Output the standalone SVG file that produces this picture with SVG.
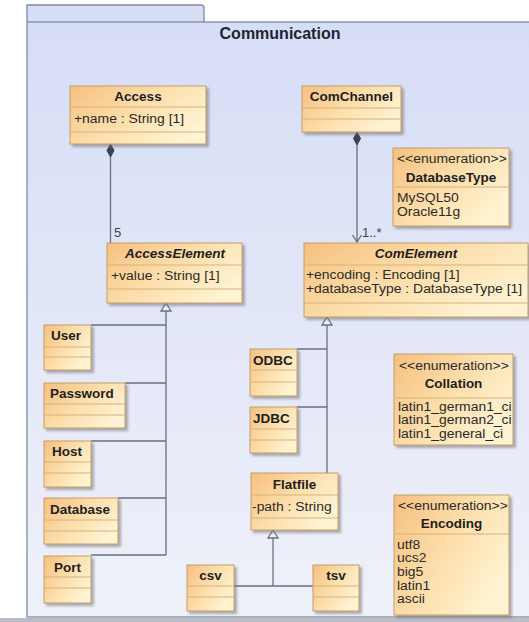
<svg xmlns="http://www.w3.org/2000/svg" width="529" height="622" viewBox="0 0 529 622">
  <defs>
    <linearGradient id="pkgFill" x1="0" y1="0" x2="0" y2="1">
      <stop offset="0" stop-color="#D6DDF6"/>
      <stop offset="1" stop-color="#EFF1F9"/>
    </linearGradient>
    <linearGradient id="boxFill" x1="0" y1="0" x2="1" y2="0.6">
      <stop offset="0" stop-color="#F6C07F"/>
      <stop offset="0.55" stop-color="#FDDFAC"/>
      <stop offset="1" stop-color="#FFF3D2"/>
    </linearGradient>
    <filter id="shadow" x="-10%" y="-10%" width="130%" height="130%">
      <feDropShadow dx="2.5" dy="2.5" stdDeviation="1" flood-color="#6F6F6F" flood-opacity="0.55"/>
    </filter>
  </defs>
  <style>
    .box { fill: url(#boxFill); stroke: #C29D6B; stroke-width: 1; filter: url(#shadow); }
    .div { stroke: #D5B27F; stroke-width: 1; }
    .name { font-family: "Liberation Sans", Arial, sans-serif; font-size: 13.5px; font-weight: bold; fill: #1E1E1E; }
    .abs { font-style: italic; }
    .txt { font-family: "Liberation Sans", Arial, sans-serif; font-size: 12px; fill: #2A2A2A; }
    .lbl { font-family: "Liberation Sans", Arial, sans-serif; font-size: 13px; fill: #3A4150; }
    .line { fill: none; stroke: #687083; stroke-width: 1.3; }
    .gen { fill: #EEF0F8; stroke: #687083; stroke-width: 1.3; }
    .comp { fill: #3B4250; stroke: #3B4250; stroke-width: 1; }
  </style>

  <!-- package frame -->
  <g id="pkg-Communication">
    <path d="M27,22 V5 H201 Q204,5 204,8 V22" fill="#D6DDF5" stroke="#7E8AA3" stroke-width="1.3"/>
    <rect x="27" y="22" width="520" height="595" fill="url(#pkgFill)" stroke="#7E8AA3" stroke-width="1.3"/>
    <rect x="0" y="618" width="529" height="4" fill="#B9BCC4"/>
    <text x="280" y="39" text-anchor="middle" font-family="Liberation Sans, Arial, sans-serif" font-size="16" font-weight="bold" fill="#1E2430">Communication</text>
  </g>

  <!-- connectors -->
  <g id="connectors">
    <!-- Access composition -->
    <line class="line" x1="110.5" y1="157" x2="110.5" y2="243"/>
    <path class="comp" d="M110.5,144 L114,150.5 L110.5,157 L107,150.5 Z"/>
    <text class="lbl" x="114" y="237">5</text>
    <!-- ComChannel composition -->
    <line class="line" x1="357" y1="145" x2="357" y2="242"/>
    <path class="comp" d="M357,132 L360.5,138.5 L357,145 L353.5,138.5 Z"/>
    <path class="line" d="M352.5,235 L357,242 L361.5,235"/>
    <text class="lbl" x="362" y="237">1..*</text>
    <!-- AccessElement generalizations -->
    <path class="line" d="M166,311 V555 M91,325 H166 M125,383 H166 M91,441 H166 M118,498 H166 M91,555 H166"/>
    <path class="gen" d="M166,303 L171,311 L161,311 Z"/>
    <!-- ComElement generalizations -->
    <path class="line" d="M327,325 V473 M297,349 H327 M297,407 H327"/>
    <path class="gen" d="M327,317 L332,325 L322,325 Z"/>
    <!-- Flatfile generalizations -->
    <path class="line" d="M273,538 V586 M234,586 H313"/>
    <path class="gen" d="M273,530 L278,538 L268,538 Z"/>
  </g>

  <!-- classes (attribute text is widened with a horizontal scale) -->
  <g id="Access">
    <rect class="box" x="70" y="86" width="136" height="58"/>
    <line class="div" x1="70" y1="107" x2="206" y2="107"/>
    <line class="div" x1="70" y1="132" x2="206" y2="132"/>
    <text class="name" x="138" y="101" text-anchor="middle">Access</text>
    <text class="txt" transform="translate(74,123) scale(1.16,1)">+name : String [1]</text>
  </g>

  <g id="ComChannel">
    <rect class="box" x="302" y="86" width="99" height="46"/>
    <line class="div" x1="302" y1="108" x2="401" y2="108"/>
    <line class="div" x1="302" y1="119" x2="401" y2="119"/>
    <text class="name" x="351.5" y="101" text-anchor="middle">ComChannel</text>
  </g>

  <g id="DatabaseType">
    <rect class="box" x="393" y="148" width="116" height="78"/>
    <line class="div" x1="393" y1="187" x2="509" y2="187"/>
    <text class="txt" transform="translate(397,163) scale(1.16,1)">&lt;&lt;enumeration&gt;&gt;</text>
    <text class="name" x="451" y="182" text-anchor="middle">DatabaseType</text>
    <text class="txt" transform="translate(397,202) scale(1.16,1)">MySQL50</text>
    <text class="txt" transform="translate(397,216) scale(1.16,1)">Oracle11g</text>
  </g>

  <g id="AccessElement">
    <rect class="box" x="107" y="243" width="135" height="60"/>
    <line class="div" x1="107" y1="265" x2="242" y2="265"/>
    <line class="div" x1="107" y1="289" x2="242" y2="289"/>
    <text class="name abs" x="175" y="258" text-anchor="middle">AccessElement</text>
    <text class="txt" transform="translate(111,280) scale(1.16,1)">+value : String [1]</text>
  </g>

  <g id="ComElement">
    <rect class="box" x="304" y="243" width="224" height="74"/>
    <line class="div" x1="304" y1="265" x2="528" y2="265"/>
    <line class="div" x1="304" y1="303" x2="528" y2="303"/>
    <text class="name abs" x="416" y="258" text-anchor="middle">ComElement</text>
    <text class="txt" transform="translate(306,279) scale(1.16,1)">+encoding : Encoding [1]</text>
    <text class="txt" transform="translate(306,293) scale(1.16,1)">+databaseType : DatabaseType [1]</text>
  </g>

  <g id="User">
    <rect class="box" x="44" y="325" width="47" height="45"/>
    <line class="div" x1="44" y1="347" x2="91" y2="347"/>
    <line class="div" x1="44" y1="357" x2="91" y2="357"/>
    <text class="name" x="51" y="340">User</text>
  </g>

  <g id="Password">
    <rect class="box" x="44" y="383" width="81" height="45"/>
    <line class="div" x1="44" y1="404" x2="125" y2="404"/>
    <line class="div" x1="44" y1="415" x2="125" y2="415"/>
    <text class="name" x="50" y="398">Password</text>
  </g>

  <g id="Host">
    <rect class="box" x="44" y="441" width="47" height="46"/>
    <line class="div" x1="44" y1="462" x2="91" y2="462"/>
    <line class="div" x1="44" y1="473" x2="91" y2="473"/>
    <text class="name" x="52" y="456">Host</text>
  </g>

  <g id="Database">
    <rect class="box" x="44" y="498" width="74" height="46"/>
    <line class="div" x1="44" y1="520" x2="118" y2="520"/>
    <line class="div" x1="44" y1="531" x2="118" y2="531"/>
    <text class="name" x="50" y="514">Database</text>
  </g>

  <g id="Port">
    <rect class="box" x="44" y="556" width="47" height="47"/>
    <line class="div" x1="44" y1="577" x2="91" y2="577"/>
    <line class="div" x1="44" y1="588" x2="91" y2="588"/>
    <text class="name" x="54" y="572">Port</text>
  </g>

  <g id="ODBC">
    <rect class="box" x="250" y="349" width="47" height="47"/>
    <line class="div" x1="250" y1="370" x2="297" y2="370"/>
    <line class="div" x1="250" y1="382" x2="297" y2="382"/>
    <text class="name" x="253" y="365">ODBC</text>
  </g>

  <g id="JDBC">
    <rect class="box" x="250" y="407" width="47" height="46"/>
    <line class="div" x1="250" y1="429" x2="297" y2="429"/>
    <line class="div" x1="250" y1="440" x2="297" y2="440"/>
    <text class="name" x="253" y="423">JDBC</text>
  </g>

  <g id="Flatfile">
    <rect class="box" x="251" y="473" width="87" height="57"/>
    <line class="div" x1="251" y1="495" x2="338" y2="495"/>
    <line class="div" x1="251" y1="518" x2="338" y2="518"/>
    <text class="name" x="294.5" y="489" text-anchor="middle">Flatfile</text>
    <text class="txt" transform="translate(252,511) scale(1.16,1)">-path : String</text>
  </g>

  <g id="csv">
    <rect class="box" x="187" y="565" width="47" height="46"/>
    <line class="div" x1="187" y1="586" x2="234" y2="586"/>
    <line class="div" x1="187" y1="597" x2="234" y2="597"/>
    <text class="name" x="210.5" y="580" text-anchor="middle">csv</text>
  </g>

  <g id="tsv">
    <rect class="box" x="313" y="565" width="46" height="46"/>
    <line class="div" x1="313" y1="586" x2="359" y2="586"/>
    <line class="div" x1="313" y1="597" x2="359" y2="597"/>
    <text class="name" x="336" y="580" text-anchor="middle">tsv</text>
  </g>

  <g id="Collation">
    <rect class="box" x="394" y="354" width="119" height="91"/>
    <line class="div" x1="394" y1="398" x2="513" y2="398"/>
    <text class="txt" transform="translate(399,370) scale(1.16,1)">&lt;&lt;enumeration&gt;&gt;</text>
    <text class="name" x="453.5" y="388" text-anchor="middle">Collation</text>
    <text class="txt" transform="translate(398,411) scale(1.16,1)">latin1_german1_ci</text>
    <text class="txt" transform="translate(398,424) scale(1.16,1)">latin1_german2_ci</text>
    <text class="txt" transform="translate(398,438) scale(1.16,1)">latin1_general_ci</text>
  </g>

  <g id="Encoding">
    <rect class="box" x="394" y="495" width="115" height="120"/>
    <line class="div" x1="394" y1="534" x2="509" y2="534"/>
    <text class="txt" transform="translate(398,510) scale(1.16,1)">&lt;&lt;enumeration&gt;&gt;</text>
    <text class="name" x="451.5" y="528" text-anchor="middle">Encoding</text>
    <text class="txt" transform="translate(397,549) scale(1.16,1)">utf8</text>
    <text class="txt" transform="translate(397,562) scale(1.16,1)">ucs2</text>
    <text class="txt" transform="translate(397,576) scale(1.16,1)">big5</text>
    <text class="txt" transform="translate(397,590) scale(1.16,1)">latin1</text>
    <text class="txt" transform="translate(397,603) scale(1.16,1)">ascii</text>
  </g>
</svg>
